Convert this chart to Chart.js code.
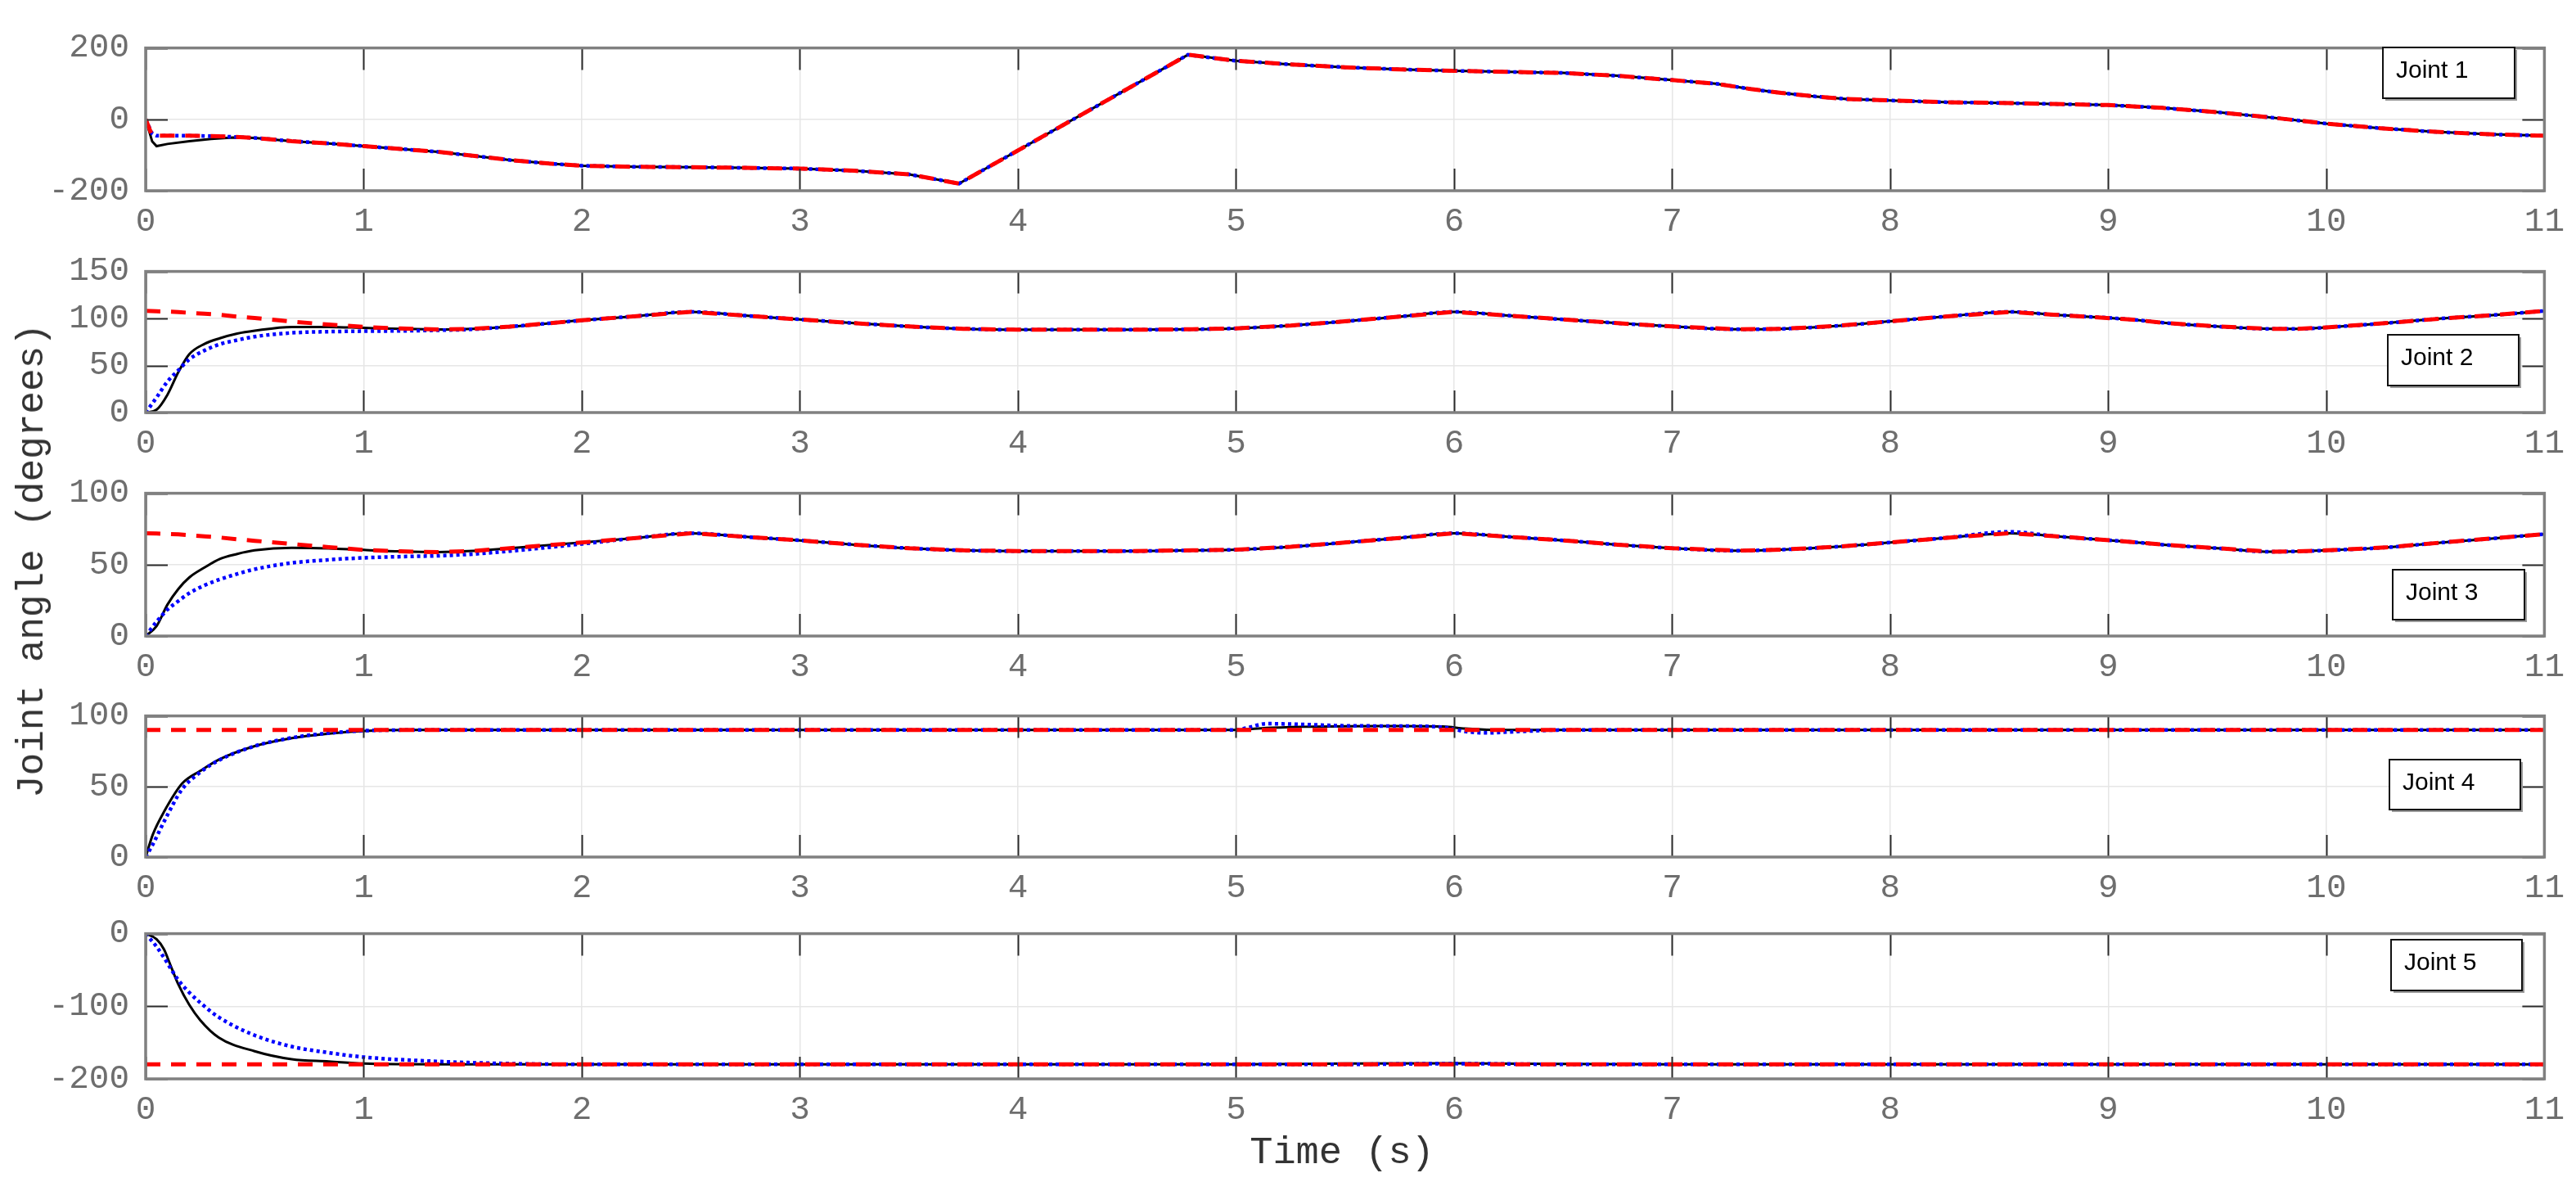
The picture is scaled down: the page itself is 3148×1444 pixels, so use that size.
<!DOCTYPE html>
<html>
<head>
<meta charset="utf-8">
<script src="https://cdn.jsdelivr.net/npm/chart.js@4.4.1/dist/chart.umd.min.js"></script>
<style>
  html, body { margin: 0; padding: 0; background: #fff; }
  #page { position: relative; width: 3148px; height: 1444px; overflow: hidden; }
  #page canvas { position: absolute; left: 0; }
  .axlabel { position: absolute; font-family: "Courier New", "Liberation Mono", monospace; color: #333; white-space: nowrap; }
  #ylab { left: 40px; top: 685px; font-size: 46px; transform: translate(-50%, -50%) rotate(-90deg); }
  #xlab { left: 1640px; top: 1408px; font-size: 47px; transform: translate(-50%, -50%); }
</style>
</head>
<body>
<div id="page">
  <canvas id="c1"></canvas>
  <canvas id="c2"></canvas>
  <canvas id="c3"></canvas>
  <canvas id="c4"></canvas>
  <canvas id="c5"></canvas>
  <div class="axlabel" id="ylab">Joint angle (degrees)</div>
  <div class="axlabel" id="xlab">Time (s)</div>
</div>
<script>
// --- data (time in s, angles in degrees) ---
// red dashed = reference, black solid = actual, blue dotted = estimate

// Joint 1
const j1Time = [0, 0.03, 0.05, 0.1, 0.2, 0.3, 0.4, 0.5, 0.67, 0.85, 1.0, 1.17, 1.34, 1.5, 1.67, 1.85, 2.0, 2.25, 2.5, 2.75, 3.0, 3.25, 3.5, 3.73, 4.78, 5.0, 5.25, 5.5, 5.75, 6.0, 6.25, 6.5, 6.75, 7.0, 7.2, 7.36, 7.5, 7.66, 7.8, 8.0, 8.25, 8.5, 8.75, 9.0, 9.25, 9.5, 9.75, 10.0, 10.25, 10.5, 10.75, 11.0];
const j1Ref = [0, -46, -46, -46, -46, -47, -49, -52, -61, -68, -75, -83, -91, -102, -114, -124, -130, -133, -134, -136, -138, -144, -154, -180, 181, 164, 154, 146, 140, 136, 133, 130, 122, 110, 100, 85, 74, 64, 57, 53, 48, 46, 43, 40, 32, 20, 5, -12, -25, -35, -42, -46];
const j1Act = [0, -62, -75, -69, -61, -55, -51, -52, -61, -68, -75, -83, -91, -102, -114, -124, -130, -133, -134, -136, -138, -144, -154, -180, 181, 164, 154, 146, 140, 136, 133, 130, 122, 110, 100, 85, 74, 64, 57, 53, 48, 46, 43, 40, 32, 20, 5, -12, -25, -35, -42, -46];
const j1Obs = [0, -40, -46, -46, -46, -47, -49, -52, -61, -68, -75, -83, -91, -102, -114, -124, -130, -133, -134, -136, -138, -144, -154, -180, 181, 164, 154, 146, 140, 136, 133, 130, 122, 110, 100, 85, 74, 64, 57, 53, 48, 46, 43, 40, 32, 20, 5, -12, -25, -35, -42, -46];

// Joints 2 and 3 share the same sample times
const j23Time = [0, 0.05, 0.1, 0.15, 0.2, 0.27, 0.34, 0.42, 0.5, 0.67, 0.84, 1.0, 1.17, 1.34, 1.5, 1.67, 2.0, 2.25, 2.5, 2.75, 3.0, 3.25, 3.5, 3.75, 4.0, 4.5, 4.8, 5.0, 5.25, 5.5, 5.75, 6.0, 6.25, 6.5, 6.75, 7.0, 7.3, 7.5, 7.75, 8.0, 8.25, 8.55, 8.75, 9.1, 9.25, 9.5, 9.75, 9.87, 10.0, 10.27, 10.53, 10.79, 11.0];

const j2Ref = [108, 107.7, 107.3, 106.8, 106, 105, 104, 102, 100.5, 96.7, 93.5, 91, 89.3, 88.4, 89, 91.3, 98, 102.5, 107, 103, 99, 95, 91.5, 89, 88, 88, 88.5, 89.5, 92.5, 97, 102, 107, 103, 99, 95, 91.5, 88.5, 89, 92, 97, 102, 107, 104, 99, 95.5, 91.5, 89, 89, 90.5, 95, 100, 104, 108];
const j2Act = [0, 3, 19, 43, 62, 73, 79, 84, 87, 91, 91, 90, 89, 88.4, 89, 91.3, 98, 102.5, 107, 103, 99, 95, 91.5, 89, 88, 88, 88.5, 89.5, 92.5, 97, 102, 107, 103, 99, 95, 91.5, 88.5, 89, 92, 97, 102, 107, 104, 99, 95.5, 91.5, 89, 89, 90.5, 95, 100, 104, 108];
const j2Obs = [0, 16, 33, 45, 56.6, 66, 72.6, 77, 80.7, 84.7, 86, 86.5, 86.8, 87.5, 88.5, 91.3, 98, 102.5, 107, 103, 99, 95, 91.5, 89, 88, 88, 88.5, 89.5, 92.5, 97, 102, 107, 103, 99, 95, 91.5, 88.5, 89, 92, 97, 102, 107, 104, 99, 95.5, 91.5, 89, 89, 90.5, 95, 100, 104, 108];

const j3Ref = [72, 71.8, 71.5, 71.2, 70.6, 69.8, 69, 67.8, 66.7, 64.5, 62.2, 60.3, 59.3, 58.8, 59.6, 61.5, 65.5, 68.7, 72, 69.5, 67, 64, 61.5, 60, 59.5, 59.5, 60, 60.5, 62.5, 65.5, 68.7, 72, 69.5, 67, 64, 61.5, 59.8, 60.5, 62.5, 65.5, 68.7, 72, 70, 66, 64, 61.5, 59, 59.3, 60, 62, 65.5, 68.7, 71.4];
const j3Act = [0, 7, 22, 33, 41, 48, 54, 57.5, 60, 61.8, 61.4, 60.3, 59.3, 58.8, 59.6, 61.5, 65.5, 68.7, 72, 69.5, 67, 64, 61.5, 60, 59.5, 59.5, 60, 60.5, 62.5, 65.5, 68.7, 72, 69.5, 67, 64, 61.5, 59.8, 60.5, 62.5, 65.5, 68.7, 72, 70, 66, 64, 61.5, 59, 59.3, 60, 62, 65.5, 68.7, 71.4];
const j3Obs = [0, 10, 18.5, 24.5, 30, 35.5, 39.7, 43.5, 46.8, 51.2, 53.4, 54.8, 55.6, 56.2, 57.4, 59.5, 64.5, 68.7, 72, 69.5, 67, 64, 61.5, 60, 59.5, 59.5, 60, 60.5, 62.5, 65.5, 68.7, 72, 69.5, 67, 64, 61.5, 59.8, 60.5, 62.5, 65.5, 68.7, 73, 70, 66, 64, 61.5, 59, 59.3, 60, 62, 65.5, 68.7, 71.4];

// Joint 4
const j4RefTime = [0, 11];
const j4Ref = [90, 90];
const j4Time = [0, 0.033, 0.084, 0.167, 0.25, 0.335, 0.5, 0.67, 0.84, 1.0, 1.25, 1.5, 2, 3, 4, 5.0, 5.05, 5.14, 5.3, 5.5, 5.75, 5.95, 6.05, 6.15, 6.3, 6.5, 7, 8, 9, 10, 11];
const j4Act = [0, 16, 32, 52, 61, 69, 78.6, 84.3, 87.5, 89.3, 90, 90, 90, 90, 90, 90, 90.5, 91.5, 92.3, 92.7, 92.8, 92.5, 91, 90.2, 90, 90, 90, 90, 90, 90, 90];
const j4Obs = [0, 9, 25, 48, 60, 68.5, 78.6, 84.5, 87.8, 89.5, 90, 90, 90, 90, 90, 90, 91.5, 94.5, 94, 93, 92.8, 92, 89, 88, 89, 90, 90, 90, 90, 90, 90];

// Joint 5
const j5RefTime = [0, 11];
const j5Ref = [-180, -180];
const j5Time = [0, 0.05, 0.084, 0.117, 0.15, 0.2, 0.25, 0.335, 0.5, 0.67, 0.84, 1.0, 1.34, 1.67, 2, 3, 4, 5, 5.5, 6, 6.5, 7, 8, 9, 10, 11];
const j5Act = [0, -7.6, -21.6, -46, -70, -98, -119, -143, -162, -173, -176, -179, -180, -180, -180, -180, -180, -180, -179, -178.5, -179.5, -180, -180, -180, -180, -180];
const j5Obs = [0, -18, -33, -49, -64, -81, -95, -115, -140, -155.5, -164, -170, -176, -179, -180, -180, -180, -180, -180, -179, -180, -180, -180, -180, -180, -180];

const timeTicks = { min: 0, max: 11, step: 1 };

// --- layout (page pixels) ---
const PAGE_W = 3148;
const PLOT_LEFT = 178;
const PLOT_RIGHT = 3110;
const PAD_TOP = 30;
const X_AXIS_H = 70;
const TICK_FONT = { family: '"Courier New", "Liberation Mono", monospace', size: 41 };
const TICK_COLOR = '#6e6e6e';
const GRID_COLOR = '#e6e6e6';

const pts = (ts, vs) => ts.map((t, i) => ({ x: t, y: vs[i] }));

// draws the MATLAB style box, inward ticks and the "Joint n" text box
const boxPlugin = {
  id: 'matlabBox',
  afterDatasetsDraw(chart, args, opts) {
    const { ctx, chartArea: a, scales: { x, y } } = chart;
    const len = 27;
    ctx.save();
    ctx.strokeStyle = '#2b2b2b';
    ctx.lineWidth = 2;
    ctx.beginPath();
    x.ticks.forEach(t => {
      const px = Math.round(x.getPixelForValue(t.value)) + 0.5;
      ctx.moveTo(px, a.bottom); ctx.lineTo(px, a.bottom - len);
      ctx.moveTo(px, a.top); ctx.lineTo(px, a.top + len);
    });
    y.ticks.forEach(t => {
      const py = Math.round(y.getPixelForValue(t.value)) + 0.5;
      ctx.moveTo(a.left, py); ctx.lineTo(a.left + len, py);
      ctx.moveTo(a.right, py); ctx.lineTo(a.right - len, py);
    });
    ctx.stroke();

    ctx.strokeStyle = '#808080';
    ctx.lineWidth = 3.5;
    ctx.strokeRect(a.left, a.top, a.right - a.left, a.bottom - a.top);

    // text box
    const bx = opts.x, by = opts.y - opts.offset, bw = opts.w, bh = opts.h;
    ctx.fillStyle = '#9a9a9a';
    ctx.fillRect(bx + 3, by + 3, bw, bh);
    ctx.fillStyle = '#ffffff';
    ctx.fillRect(bx, by, bw, bh);
    ctx.strokeStyle = '#111111';
    ctx.lineWidth = 2;
    ctx.strokeRect(bx, by, bw, bh);
    ctx.fillStyle = '#000000';
    ctx.font = '30px "Liberation Sans", Arial, sans-serif';
    ctx.textBaseline = 'middle';
    ctx.textAlign = 'left';
    ctx.fillText(opts.text, bx + 16, by + bh / 2 - 2);
    ctx.restore();
  }
};

function makePanel(id, top, bottom, yRange, series, label, smooth) {
  const canvas = document.getElementById(id);
  const h = PAD_TOP + (bottom - top) + X_AXIS_H;
  canvas.width = PAGE_W;
  canvas.height = h;
  canvas.style.width = PAGE_W + 'px';
  canvas.style.height = h + 'px';
  canvas.style.top = (top - PAD_TOP) + 'px';

  const curve = smooth ? 'monotone' : 'default';
  const datasets = [
    { label: 'reference', data: pts(series.refT, series.ref), borderColor: '#ff0000', borderWidth: 5, borderDash: [18, 13] },
    { label: 'estimate', data: pts(series.t, series.obs), borderColor: '#0000ff', borderWidth: 4.5, borderDash: [4, 4], cubicInterpolationMode: curve },
    { label: 'actual', data: pts(series.t, series.act), borderColor: '#000000', borderWidth: 3, cubicInterpolationMode: curve }
  ].map(d => Object.assign(d, { pointRadius: 0, tension: 0, fill: false }));

  return new Chart(canvas, {
    type: 'line',
    data: { datasets },
    options: {
      responsive: false,
      devicePixelRatio: 1,
      animation: false,
      layout: { padding: { left: 0, right: PAGE_W - PLOT_RIGHT, top: PAD_TOP, bottom: 0 } },
      plugins: {
        legend: { display: false },
        tooltip: { enabled: false },
        matlabBox: Object.assign({ offset: top - PAD_TOP }, label)
      },
      scales: {
        x: {
          type: 'linear',
          min: timeTicks.min, max: timeTicks.max,
          ticks: { stepSize: timeTicks.step, autoSkip: false, maxRotation: 0, color: TICK_COLOR, font: TICK_FONT, padding: 14 },
          grid: { color: GRID_COLOR, lineWidth: 1.5, drawTicks: false },
          border: { display: false },
          afterFit: s => { s.height = X_AXIS_H; }
        },
        y: {
          min: yRange[0], max: yRange[1],
          ticks: { stepSize: yRange[2], color: TICK_COLOR, font: TICK_FONT, padding: 20 },
          grid: { color: GRID_COLOR, lineWidth: 1.5, drawTicks: false },
          border: { display: false },
          afterFit: s => { s.width = PLOT_LEFT; }
        }
      }
    },
    plugins: [boxPlugin]
  });
}

makePanel('c1', 44, 233, [-200, 200, 200],
  { t: j1Time, refT: j1Time, ref: j1Ref, act: j1Act, obs: j1Obs },
  { text: 'Joint 1', x: 2912, y: 58, w: 161, h: 62 }, false);
makePanel('c2', 317, 504, [0, 150, 50],
  { t: j23Time, refT: j23Time, ref: j2Ref, act: j2Act, obs: j2Obs },
  { text: 'Joint 2', x: 2918, y: 409, w: 160, h: 62 }, true);
makePanel('c3', 588, 777, [0, 100, 50],
  { t: j23Time, refT: j23Time, ref: j3Ref, act: j3Act, obs: j3Obs },
  { text: 'Joint 3', x: 2924, y: 696, w: 161, h: 61 }, true);
makePanel('c4', 860, 1047, [0, 100, 50],
  { t: j4Time, refT: j4RefTime, ref: j4Ref, act: j4Act, obs: j4Obs },
  { text: 'Joint 4', x: 2920, y: 928, w: 160, h: 61 }, true);
makePanel('c5', 1126, 1318, [-200, 0, 100],
  { t: j5Time, refT: j5RefTime, ref: j5Ref, act: j5Act, obs: j5Obs },
  { text: 'Joint 5', x: 2922, y: 1148, w: 160, h: 62 }, true);
</script>
</body>
</html>
